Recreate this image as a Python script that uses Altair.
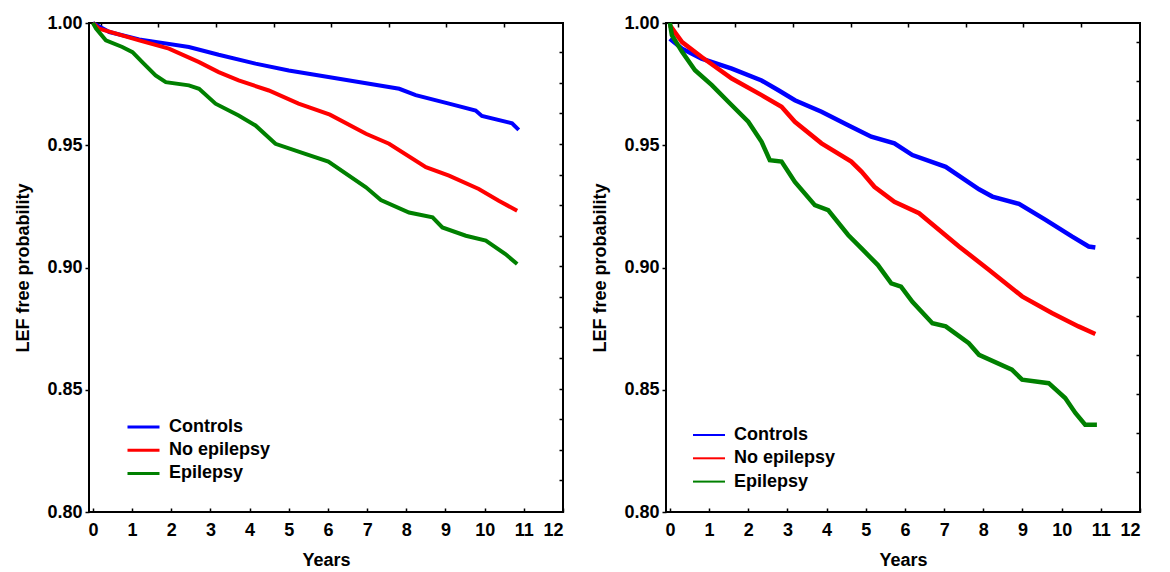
import altair as alt
import pandas as pd

groups = ["Controls", "No epilepsy", "Epilepsy"]
colors = ["#0000FF", "#FF0000", "#008000"]

# ---- Left panel (years, LEF free probability) ----
left_controls_t = [0, 0.42, 1.18, 2.45, 3.21, 4.15, 5.0, 6.01, 6.55, 7.82, 8.24, 9.09, 9.77, 9.93, 10.7, 10.87]
left_controls_v = [1.0, 0.9963, 0.9933, 0.9902, 0.987, 0.9834, 0.9806, 0.9779, 0.9765, 0.9731, 0.9705, 0.967, 0.9642, 0.962, 0.959, 0.9563]
left_noepi_t = [0, 0.16, 1.18, 1.94, 2.71, 3.21, 3.72, 4.49, 5.25, 6.05, 6.97, 7.56, 8.5, 9.09, 9.85, 10.36, 10.83]
left_noepi_v = [1.0, 0.9977, 0.9929, 0.9895, 0.984, 0.9799, 0.9765, 0.9724, 0.967, 0.9625, 0.9547, 0.9506, 0.941, 0.9376, 0.9321, 0.9273, 0.9232]
left_epi_t = [0, 0.08, 0.33, 0.75, 1.01, 1.26, 1.6, 1.86, 2.45, 2.71, 3.13, 3.72, 4.15, 4.66, 5.42, 6.01, 6.97, 7.35, 8.07, 8.67, 8.92, 9.52, 10.03, 10.53, 10.83]
left_epi_v = [1.0, 0.9977, 0.9929, 0.9902, 0.9881, 0.984, 0.9786, 0.9758, 0.9745, 0.9731, 0.967, 0.9622, 0.9581, 0.9506, 0.9465, 0.9433, 0.9328, 0.9276, 0.9225, 0.9205, 0.9164, 0.913, 0.911, 0.9055, 0.9014]

# ---- Right panel ----
right_controls_t = [0, 0.31, 0.81, 1.58, 2.34, 2.77, 3.19, 3.87, 4.55, 5.14, 5.73, 6.19, 7.04, 7.89, 8.23, 8.91, 9.59, 10.26, 10.69, 10.86]
right_controls_v = [0.9936, 0.9895, 0.9854, 0.9813, 0.9765, 0.9725, 0.9684, 0.9637, 0.9582, 0.9535, 0.9508, 0.946, 0.9412, 0.932, 0.929, 0.926, 0.9195, 0.9127, 0.9086, 0.9082]
right_noepi_t = [0, 0.31, 0.81, 1.58, 2.34, 2.85, 3.19, 3.87, 4.63, 4.89, 5.22, 5.73, 6.36, 7.38, 8.14, 8.99, 9.75, 10.43, 10.86]
right_noepi_v = [0.999, 0.9922, 0.9861, 0.9773, 0.9705, 0.9657, 0.9596, 0.9508, 0.9433, 0.9392, 0.933, 0.9269, 0.9222, 0.9086, 0.8991, 0.8882, 0.8814, 0.8759, 0.8728]
right_epi_t = [0, 0.05, 0.31, 0.64, 1.07, 1.49, 2.0, 2.34, 2.55, 2.85, 3.19, 3.70, 4.04, 4.55, 4.89, 5.31, 5.65, 5.9, 6.19, 6.70, 7.04, 7.63, 7.89, 8.73, 8.99, 9.67, 10.09, 10.35, 10.6, 10.9]
right_epi_v = [1.0, 0.995, 0.9882, 0.9807, 0.9746, 0.9678, 0.9596, 0.9514, 0.9439, 0.9433, 0.935, 0.9255, 0.9235, 0.9133, 0.9078, 0.901, 0.8935, 0.8922, 0.886, 0.8772, 0.8759, 0.869, 0.8643, 0.8582, 0.8541, 0.8527, 0.8466, 0.8405, 0.8357, 0.8357]

# ---- Axis tick values ----
x_ticks = list(range(13))
y_ticks = [0.80, 0.85, 0.90, 0.95, 1.00]
top_ticks = [0.2, 1.67, 3.14, 4.61, 6.08, 7.55, 9.02, 10.49]
left_right_ticks = [0.988, 0.9755, 0.963, 0.9505, 0.938, 0.9255, 0.913, 0.9005, 0.888, 0.8755, 0.863, 0.8505, 0.838, 0.8255, 0.813]
right_right_ticks = [0.9922, 0.9762, 0.9602, 0.9442, 0.9282, 0.9122, 0.8962, 0.8802, 0.8642, 0.8482, 0.8322, 0.8162]


def frame(tlists, vlists):
    rows = []
    for g, ts, vs in zip(groups, tlists, vlists):
        for t, v in zip(ts, vs):
            rows.append({"t": t, "v": v, "group": g})
    return pd.DataFrame(rows)


left_df = frame([left_controls_t, left_noepi_t, left_epi_t], [left_controls_v, left_noepi_v, left_epi_v])
right_df = frame([right_controls_t, right_noepi_t, right_epi_t], [right_controls_v, right_noepi_v, right_epi_v])

FONT = "Liberation Sans"
FS = 18
W, H = 474, 489
# vertical grid lines run from the far edge towards the axis: draw only the last 4px
FAR_TICK = [0, H - 4, 4, 2000]
# wide horizontal legend stroke (32px long for a 20px symbol)
LEGEND_LINE = "M-1.6,0H1.6"


def panel(df, right_ticks, lx, ly, sw, lw, rowpad):
    xs = alt.Scale(domain=[-0.1, 12], nice=False, zero=False)
    ys = alt.Scale(domain=[0.8, 1.0], nice=False, zero=False)
    color = alt.Color(
        "group:N",
        scale=alt.Scale(domain=groups, range=colors),
        sort=groups,
        legend=alt.Legend(
            title=None, orient="none", legendX=lx, legendY=ly,
            symbolType=LEGEND_LINE, symbolSize=400, symbolStrokeWidth=sw,
            symbolFillColor="transparent",
            labelFontSize=FS, labelFont=FONT, labelFontWeight="bold", labelColor="black",
            labelOffset=14, rowPadding=rowpad, padding=0,
        ),
    )
    lines = alt.Chart(df).mark_line(strokeWidth=lw).encode(
        x=alt.X("t:Q", scale=xs, axis=alt.Axis(
            values=x_ticks, format="d", title="Years", ticks=False, domain=False,
            grid=True, gridDash=FAR_TICK, gridColor="black", gridWidth=1.5, gridOpacity=1,
            labelPadding=9, titlePadding=12)),
        y=alt.Y("v:Q", scale=ys, axis=alt.Axis(
            values=y_ticks, format=".2f", title="LEF free probability",
            tickSize=4, tickWidth=1.5, tickColor="black", domain=False, grid=False,
            labelPadding=3, titlePadding=14)),
        color=color,
    )
    extra = alt.Chart(df).mark_line(strokeOpacity=0).encode(
        x=alt.X("t:Q", scale=xs, axis=alt.Axis(
            orient="top", values=top_ticks, labels=False, ticks=False, domain=False, title=None,
            grid=True, gridDash=FAR_TICK, gridColor="black", gridWidth=1.5, gridOpacity=1)),
        y=alt.Y("v:Q", scale=ys, axis=alt.Axis(
            orient="right", values=right_ticks, labels=False, ticks=False, domain=False, title=None,
            grid=True, gridDash=[4, 2000], gridColor="black", gridWidth=1.5, gridOpacity=1)),
        detail="group:N",
    )
    return alt.layer(lines, extra).resolve_axis(x="independent", y="independent").properties(width=W, height=H)


left = panel(left_df, left_right_ticks, 43, 392.5, 3, 4, 2.2)
right = panel(right_df, right_right_ticks, 32, 401, 2, 4.5, 3.3)

chart = (
    alt.hconcat(left, right, spacing=103, bounds="flush")
    .resolve_scale(color="independent")
    .configure_view(stroke="black", strokeWidth=2)
    .configure_axis(
        labelFont=FONT, labelFontWeight="bold", labelFontSize=FS, labelColor="black",
        titleFont=FONT, titleFontWeight="bold", titleFontSize=FS, titleColor="black",
    )
    .properties(padding={"left": 5, "top": 5, "right": 5, "bottom": 5}, background="white")
)

chart.save("out.html", embed_options={"renderer": "svg", "actions": False})
